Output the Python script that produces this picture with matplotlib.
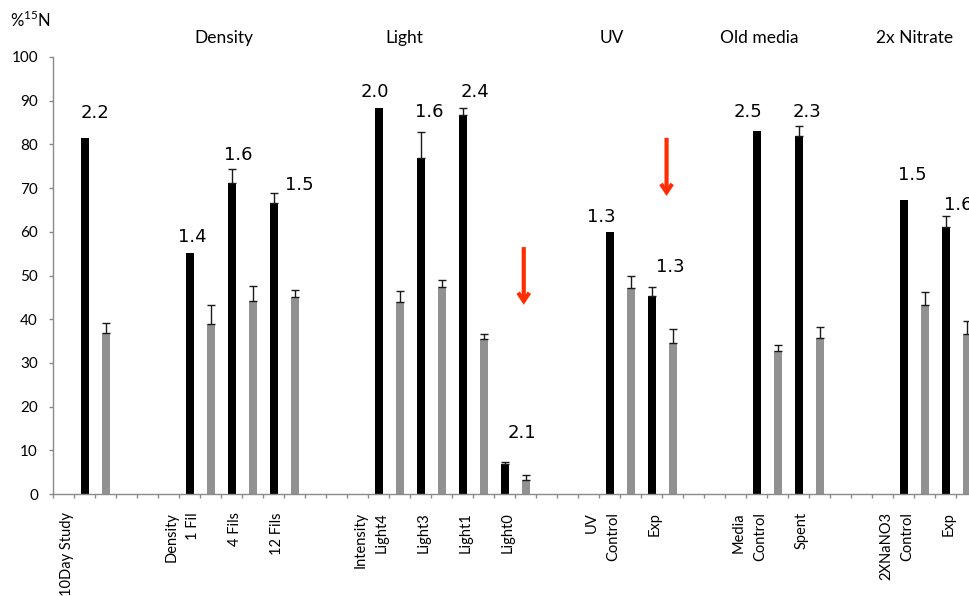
import numpy as np
import matplotlib
matplotlib.use("Agg")
import matplotlib.pyplot as plt
from matplotlib.transforms import ScaledTranslation

# ---------------- data ----------------
categories = ["10Day Study", "", "", "", "", "Density", "1 Fil", "", "4 Fils", "", "12 Fils", "",
              "", "", "Intensity", "Light4", "", "Light3", "", "Light1", "", "Light0", "", "", "",
              "UV", "Control", "", "Exp", "", "", "", "Media", "Control", "", "Spent", "", "", "",
              "2XNaNO3", "Control", "", "Exp", ""]
N = None
black_values = [N, 81.4, N, N, N, N, 55.2, N, 71.2, N, 66.7, N, N, N, N, 88.3, N, 77.0, N, 86.7, N,
                6.8, N, N, N, N, 60.0, N, 45.4, N, N, N, N, 83.1, N, 81.9, N, N, N, N, 67.3, N, 61.2, N]
black_errors = [N, N, N, N, N, N, N, N, 3.1, N, 2.1, N, N, N, N, N, N, 5.8, N, 1.6, N,
                0.5, N, N, N, N, N, N, 1.9, N, N, N, N, N, N, 2.2, N, N, N, N, N, N, 2.5, N]
gray_values = [N, N, 36.9, N, N, N, N, 38.9, N, 44.1, N, 45.0, N, N, N, N, 44.0, N, 47.3, N, 35.4,
               N, 3.2, N, N, N, N, 47.1, N, 34.5, N, N, N, N, 32.7, N, 35.6, N, N, N, N, 43.3, N, 36.5]
gray_errors = [N, N, 2.3, N, N, N, N, 4.3, N, 3.5, N, 1.7, N, N, N, N, 2.5, N, 1.7, N, 1.1,
               N, 1.2, N, N, N, N, 2.8, N, 3.3, N, N, N, N, 1.4, N, 2.7, N, N, N, N, 2.9, N, 3.0]
ratio_labels = [N, "2.2", N, N, N, N, "1.4", N, "1.6", N, "1.5", N, N, N, N, "2.0", N, "1.6", N, "2.4", N,
                "2.1", N, N, N, N, "1.3", N, "1.3", N, N, N, N, "2.5", N, "2.3", N, N, N, N, "1.5", N, "1.6", N]
group_titles = ["Density", "Light", "UV", "Old media", "2x Nitrate"]

# ---------------- layout ----------------
# ratio label offsets (x in slots, y in axis units) relative to the black bar top
ratio_offsets = {1: (0.5, 5.8), 6: (0.1, 3.6), 8: (0.3, 6.4), 10: (1.2, 4.0), 15: (-0.2, 3.7),
                 17: (0.4, 10.4), 19: (0.6, 5.3), 21: (0.8, 7.2), 26: (-0.4, 3.4), 28: (0.9, 6.5),
                 33: (-0.4, 4.3), 35: (0.4, 5.5), 40: (0.4, 5.7), 42: (0.6, 4.9)}
title_pos = [7.6, 16.2, 26.1, 33.1, 40.5]
arrows = [(21.9, 56.5, 43.3), (28.7, 81.5, 68.2)]

W, H = 969, 596
fig = plt.figure(figsize=(W / 100, H / 100), dpi=100)
ax = fig.add_axes([53.3 / W, (H - 494) / H, 1 - 53.3 / W, (494 - 57) / H])

x = np.arange(len(categories))
bv = np.array([np.nan if v is None else v for v in black_values], dtype=float)
gv = np.array([np.nan if v is None else v for v in gray_values], dtype=float)
be = np.array([np.nan if v is None else v for v in black_errors], dtype=float)
ge = np.array([np.nan if v is None else v for v in gray_errors], dtype=float)

bw = 0.38
mb = ~np.isnan(bv)
mg = ~np.isnan(gv)
ax.bar(x[mb], bv[mb], width=bw, color="black", zorder=2)
ax.bar(x[mg], gv[mg], width=bw, color="#919191", zorder=2)

for vals, errs in ((bv, be), (gv, ge)):
    m = ~np.isnan(errs)
    ax.errorbar(x[m], vals[m], yerr=[np.zeros(m.sum()), errs[m]], fmt="none",
                ecolor="#1a1a1a", elinewidth=1.0, capsize=2.6, capthick=1.0, zorder=3)

for i, lab in enumerate(ratio_labels):
    if lab:
        dx, dy = ratio_offsets[i]
        ax.text(i + dx, bv[i] + dy, lab, ha="center", va="center", fontsize=13,
                family="DejaVu Sans", clip_on=False, zorder=4)

for t, px in zip(group_titles, title_pos):
    ax.text(px, 104.3, t, ha="center", va="center", fontsize=12.5, family="Lato", clip_on=False)

for ax_x, y0, y1 in arrows:
    ax.annotate("", xy=(ax_x, y1), xytext=(ax_x, y0),
                arrowprops=dict(arrowstyle="->,head_length=0.6,head_width=0.4",
                                color="#ff2d00", lw=3.0, shrinkA=0, shrinkB=0,
                                joinstyle="miter", capstyle="butt"))

ax.set_xlim(-0.5, 43.1)
ax.set_ylim(0, 100)
ax.set_yticks(np.arange(0, 101, 10))
ax.set_yticklabels([str(v) for v in range(0, 101, 10)], family="Lato", fontsize=11)
ax.set_xticks(x)
ax.set_xticklabels(categories, rotation=90, family="Lato", fontsize=10.5, va="top")
ax.set_xticks(np.arange(-0.5, 43.0, 1.0), minor=True)
ax.tick_params(axis="x", which="major", length=0, pad=13)
ax.tick_params(axis="x", which="minor", length=3, color="#8a8a8a", width=1)
ax.tick_params(axis="y", length=3, color="#8a8a8a", width=1, pad=8)
for lbl in ax.get_xticklabels():
    lbl.set_transform(lbl.get_transform() + ScaledTranslation(3 / 100, 0, fig.dpi_scale_trans))

for s in ("top", "right"):
    ax.spines[s].set_visible(False)
for s in ("left", "bottom"):
    ax.spines[s].set_color("#8a8a8a")
    ax.spines[s].set_linewidth(1)

fig.text(10 / W, 1 - 20 / H, r"%$^{\mathregular{15}}$N", family="Lato", fontsize=12,
         ha="left", va="center")

fig.savefig("out.png", dpi=100)
